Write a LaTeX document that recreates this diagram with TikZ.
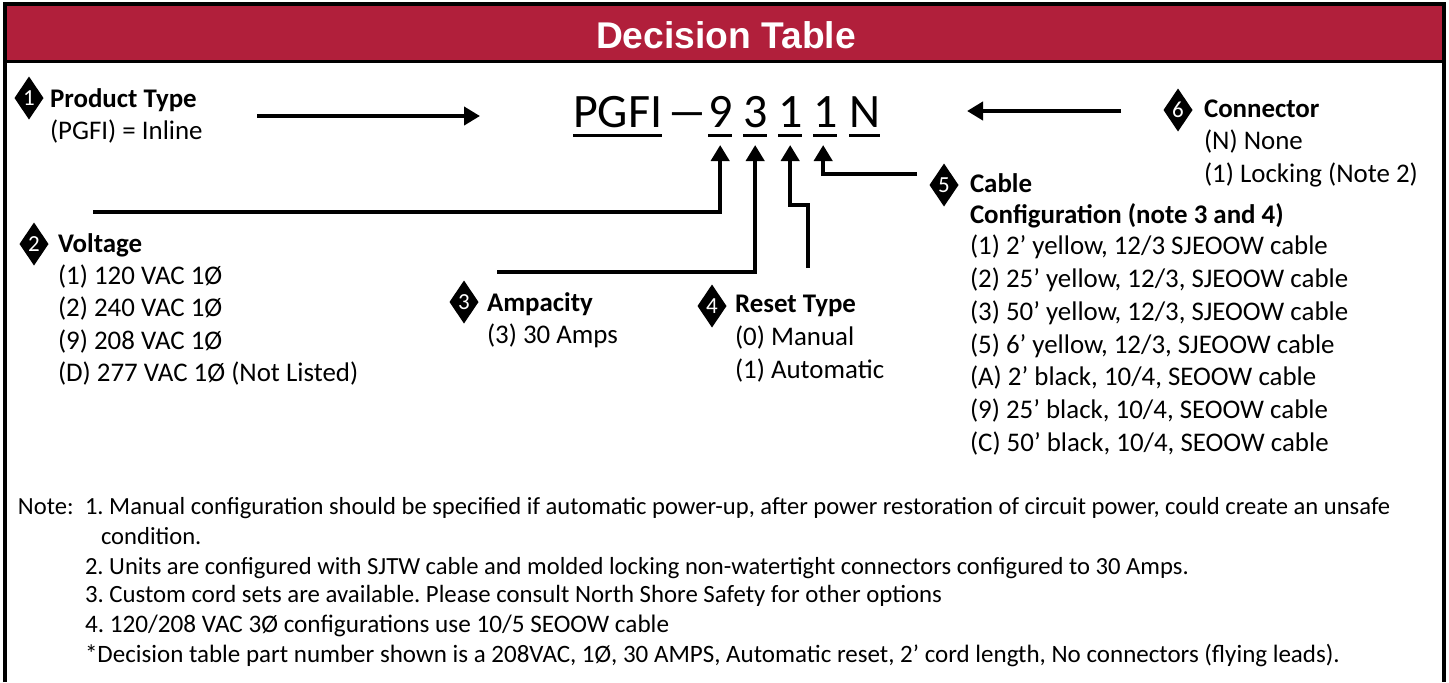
\documentclass[tikz,border=0pt]{standalone}
\usepackage{fontspec}
\setmainfont{Carlito}
\newfontfamily\titlefont{Liberation Sans}
\usetikzlibrary{arrows.meta,shapes.geometric}
\definecolor{hdrred}{RGB}{177,31,59}
\frenchspacing
\begin{document}
\begin{tikzpicture}[x=0.5pt,y=-0.5pt,
  every node/.style={inner sep=0pt, outer sep=0pt},
  bodytxt/.style={anchor=base west, font=\fontsize{13.45pt}{16pt}\selectfont},
  headtxt/.style={anchor=base west, font=\fontsize{13.45pt}{16pt}\selectfont\bfseries},
  notetxt/.style={anchor=base west, font=\fontsize{12.3pt}{15pt}\selectfont},
  bigtxt/.style={anchor=base west, font=\fontsize{24pt}{28pt}\selectfont},
  badge/.style={diamond, fill=black, minimum width=14.5pt, minimum height=21.5pt, text=white, font=\fontsize{11.5pt}{12pt}\selectfont},
  conn/.style={line width=2.25pt, -{Triangle[length=8pt,width=9pt]}},
  uline/.style={line width=1.5pt},
]
\useasboundingbox (0,0) rectangle (1449,682);
% header
\fill[hdrred] (5,5) rectangle (1444,61);
\draw[line width=1.5pt] (5,61.5) -- (1444,61.5);
\draw[line width=2pt] (5,682) -- (5,4) -- (1444,4) -- (1444,682);
\node[font=\titlefont\bfseries\fontsize{18.6pt}{20pt}\selectfont, text=white] (title) at (726,35) {Decision Table};

% part number
\node[bigtxt] (pgfi) at (573,127) {PGFI};
\node[bigtxt] (dash) at (666,127) {\scalebox{1.75}[1]{–}};
\node[bigtxt] (d9) at (708,127) {9};
\node[bigtxt] (d3) at (743,127) {3};
\node[bigtxt] (d1a) at (778,127) {1};
\node[bigtxt] (d1b) at (813,127) {1};
\node[bigtxt] (dN) at (849,127) {N};
\foreach \n in {pgfi,d9,d3,d1a,d1b,dN}
  \draw[uline] ([yshift=-4pt]\n.base west) -- ([yshift=-4pt]\n.base east);

% badges
\node[badge] (b1) at (29,98) {1};
\node[badge] (b2) at (34,244) {2};
\node[badge] (b3) at (464,302) {3};
\node[badge] (b4) at (712,306) {4};
\node[badge] (b5) at (944,185) {5};
\node[badge] (b6) at (1178,110) {6};

% 1 product type
\node[headtxt] (t1) at (50,107) {Product Type};
\node[bodytxt] (t1a) at (50,139) {(PGFI) = Inline};
% 2 voltage
\node[headtxt] (t2) at (58,252) {Voltage};
\node[bodytxt] (t2a) at (58,284) {(1) 120 VAC 1Ø};
\node[bodytxt] (t2b) at (58,316) {(2) 240 VAC 1Ø};
\node[bodytxt] (t2c) at (58,349) {(9) 208 VAC 1Ø};
\node[bodytxt] (t2d) at (58,381) {(D) 277 VAC 1Ø (Not Listed)};
% 3 ampacity
\node[headtxt] (t3) at (487,311) {Ampacity};
\node[bodytxt] (t3a) at (487,343) {(3) 30 Amps};
% 4 reset
\node[headtxt] (t4) at (735,312) {Reset Type};
\node[bodytxt] (t4a) at (735,345) {(0) Manual};
\node[bodytxt] (t4b) at (735,378) {(1) Automatic};
% 6 connector
\node[headtxt] (t6) at (1204,117) {Connector};
\node[bodytxt] (t6a) at (1204,149) {(N) None};
\node[bodytxt] (t6b) at (1204,182) {(1) Locking (Note 2)};
% 5 cable
\node[headtxt] (t5) at (970,192) {Cable};
\node[headtxt] (t5b) at (970,223) {Configuration (note 3 and 4)};
\node[bodytxt] (t5c) at (970,254) {(1) 2’ yellow, 12/3 SJEOOW cable};
\node[bodytxt] (t5d) at (970,287) {(2) 25’ yellow, 12/3, SJEOOW cable};
\node[bodytxt] (t5e) at (970,320) {(3) 50’ yellow, 12/3, SJEOOW cable};
\node[bodytxt] (t5f) at (970,353) {(5) 6’ yellow, 12/3, SJEOOW cable};
\node[bodytxt] (t5g) at (970,385) {(A) 2’ black, 10/4, SEOOW cable};
\node[bodytxt] (t5h) at (970,418) {(9) 25’ black, 10/4, SEOOW cable};
\node[bodytxt] (t5i) at (970,451) {(C) 50’ black, 10/4, SEOOW cable};

% connectors
\coordinate (c1s) at (257,116);
\coordinate (c1e) at (480,116);
\draw[conn] (c1s) -- (c1e);
\coordinate (c6s) at (1121,111);
\coordinate (c6e) at (967,111);
\draw[conn] (c6s) -- (c6e);
\coordinate (c2) at (93,212);
\draw[conn] (c2) -| ([yshift=-9pt]d9.base);
\coordinate (c3) at (497,272);
\draw[conn] (c3) -| ([yshift=-9pt]d3.base);
\coordinate (c4) at (808,268);
\draw[conn] (c4) -- ++(0,-63) -| ([yshift=-9pt]d1a.base);
\coordinate (c5) at (917,174);
\draw[conn] (c5) -| ([xshift=-1pt,yshift=-9pt]d1b.base);

% notes
\node[notetxt] (note) at (18,514) {Note:};
\node[notetxt] (n1) at (85,514) {1. Manual configuration should be specified if automatic power-up, after power restoration of circuit power, could create an unsafe};
\node[notetxt] (n1b) at (101,544) {condition.};
\node[notetxt] (n2) at (85,574) {2. Units are configured with SJTW cable and molded locking non-watertight connectors configured to 30 Amps.};
\node[notetxt, font=\fontsize{12.4pt}{15pt}\selectfont] (n3) at (85,602) {3. Custom cord sets are available. Please consult North Shore Safety for other options};
\node[notetxt, font=\fontsize{12.6pt}{15pt}\selectfont] (n4) at (85,632) {4. 120/208 VAC 3Ø configurations use 10/5 SEOOW cable};
\node[notetxt, font=\fontsize{12.5pt}{15pt}\selectfont] (n5) at (85,662) {*Decision table part number shown is a 208VAC, 1Ø, 30 AMPS, Automatic reset, 2’ cord length, No connectors (flying leads).};
\end{tikzpicture}
\end{document}
